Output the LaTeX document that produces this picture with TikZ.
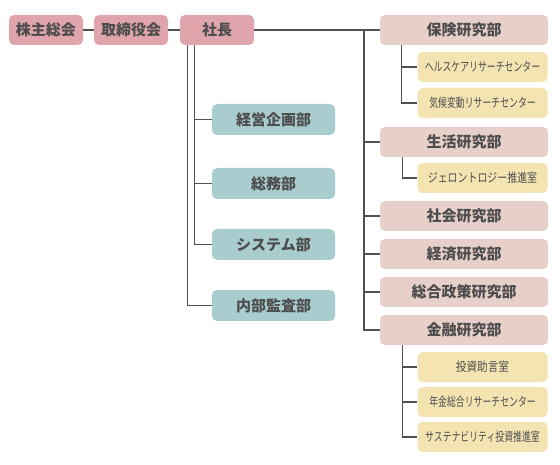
\documentclass[tikz,border=0pt]{standalone}
\usepackage{fontspec}
\usepackage{graphicx}
\newfontfamily\jp{Noto Sans CJK JP}
\newfontfamily\jpn{Noto Sans CJK JP}[FakeStretch=0.71]
\definecolor{toppink}{HTML}{E0A5AC}
\definecolor{tealbox}{HTML}{A9CDCF}
\definecolor{rosebox}{HTML}{E8D0CA}
\definecolor{yelbox}{HTML}{F3E4B2}
\definecolor{txt}{HTML}{4D4D4D}
\definecolor{ln}{HTML}{505050}
\begin{document}
\begin{tikzpicture}[x=1pt,y=-1pt,
  box/.style={rounded corners=5pt, inner sep=0pt, text=txt, font=\jp\bfseries\fontsize{15}{17}\selectfont},
  topbox/.style={box, fill=toppink, minimum width=74pt, minimum height=30pt},
  teal/.style={box, fill=tealbox, minimum width=123pt, minimum height=31pt},
  rose/.style={box, fill=rosebox, minimum width=168pt, minimum height=30pt},
  yel/.style={rounded corners=5pt, inner sep=0pt, text=txt, fill=yelbox, minimum width=130pt, minimum height=30pt, font=\jpn\fontsize{12.5}{14}\selectfont},
  conn/.style={draw=ln, line width=1.2pt}]
\useasboundingbox (0,0) rectangle (560,465);
% top row
\node[topbox] (kabu) at (46,30) {株主総会};
\node[topbox] (tori) at (131,30) {取締役会};
\node[topbox] (sha) at (217,30) {社長};
% left column
\node[teal] (keiei) at (273.5,119.5) {経営企画部};
\node[teal] (somu) at (273.5,183.5) {総務部};
\node[teal] (sys) at (273.5,244.5) {システム部};
\node[teal] (naibu) at (273.5,305.5) {内部監査部};
% right column
\node[rose] (hoken) at (464,30) {保険研究部};
\node[yel] (health) at (482.5,67) {ヘルスケアリサーチセンター};
\node[yel] (kiko) at (482.5,103) {気候変動リサーチセンター};
\node[rose] (seikatsu) at (464,142) {生活研究部};
\node[yel] (geron) at (482.5,178) {\scalebox{1.12}[1]{ジェロントロジー推進室}};
\node[rose] (shakai) at (464,216) {社会研究部};
\node[rose] (keizai) at (464,254) {経済研究部};
\node[rose] (sogo) at (464,292) {総合政策研究部};
\node[rose] (kinyu) at (464,330) {金融研究部};
\node[yel] (toshi) at (482.5,367) {\scalebox{1.2}[1]{投資助言室}};
\node[yel] (nenkin) at (482.5,402) {年金総合リサーチセンター};
\node[yel] (sus) at (482.5,437) {サステナビリティ投資推進室};
% connectors top
\draw[conn] (kabu.east) -- (tori.west);
\draw[conn] (tori.east) -- (sha.west);
\draw[conn] (sha.east |- hoken.west) -- (hoken.west);
\coordinate (rv) at (364,30);
\draw[conn] (rv) |- (kinyu.west);
\draw[conn] (rv |- seikatsu.west) -- (seikatsu.west);
\draw[conn] (rv |- shakai.west) -- (shakai.west);
\draw[conn] (rv |- keizai.west) -- (keizai.west);
\draw[conn] (rv |- sogo.west) -- (sogo.west);
% left
\draw[conn] ([xshift=15pt]sha.south west) |- (sys.west);
\draw[conn] ([xshift=15pt]sha.south west |- keiei.west) -- (keiei.west);
\draw[conn] ([xshift=15pt]sha.south west |- somu.west) -- (somu.west);
\draw[conn] ([xshift=8pt]sha.south west) |- (naibu.west);
% sub
\draw[conn] ([xshift=22pt]hoken.south west) |- (kiko.west);
\draw[conn] ([xshift=22pt]hoken.south west |- health.west) -- (health.west);
\draw[conn] ([xshift=23pt]seikatsu.south west) |- (geron.west);
\draw[conn] ([xshift=23pt]kinyu.south west) |- (sus.west);
\draw[conn] ([xshift=23pt]kinyu.south west |- toshi.west) -- (toshi.west);
\draw[conn] ([xshift=23pt]kinyu.south west |- nenkin.west) -- (nenkin.west);
\end{tikzpicture}
\end{document}
